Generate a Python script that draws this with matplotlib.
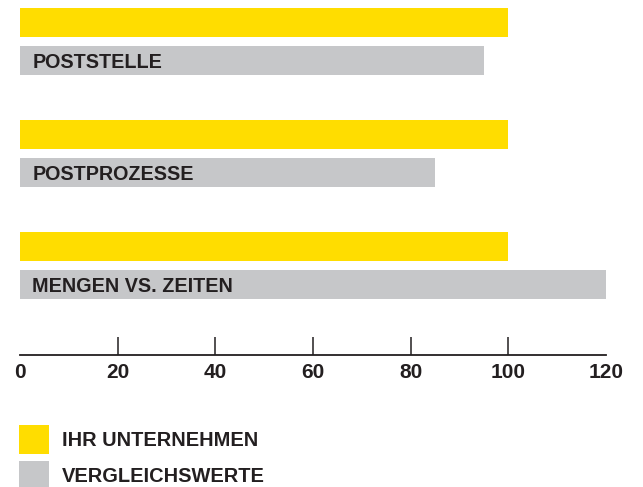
import matplotlib.pyplot as plt
from matplotlib.patches import Rectangle

# daten
kategorien = ['POSTSTELLE', 'POSTPROZESSE', 'MENGEN VS. ZEITEN']
ihr_unternehmen = [100, 100, 100]
vergleichswerte = [95, 85, 120]
x_ticks = [0, 20, 40, 60, 80, 100, 120]
legende = ['IHR UNTERNEHMEN', 'VERGLEICHSWERTE']

GELB = '#FFDD00'
GRAU = '#C6C7C9'
TEXT = '#231F20'

plt.rcParams['font.family'] = ['Liberation Sans', 'DejaVu Sans']
plt.rcParams['font.weight'] = 'bold'

fig = plt.figure(figsize=(6.43, 4.87), dpi=100)
ax = fig.add_axes([20 / 643, 1 - 355 / 487, 586 / 643, 355 / 487])

pos = list(range(len(kategorien)))
ax.barh([p - 0.17 for p in pos], ihr_unternehmen, height=0.26, color=GELB)
ax.barh([p + 0.17 for p in pos], vergleichswerte, height=0.26, color=GRAU)

for p, name in zip(pos, kategorien):
    ax.annotate(name, xy=(0, p + 0.17), xytext=(9, -1.2), textcoords='offset points',
                va='center', ha='left', fontsize=14.2, fontweight='bold', color=TEXT)

ax.set_xlim(0, 120)
ax.set_ylim(2.799, -0.3705)
ax.set_yticks([])
ax.set_xticks(x_ticks)
ax.set_xticklabels([str(t) for t in x_ticks], fontsize=15, fontweight='bold', color=TEXT)
ax.tick_params(axis='x', direction='in', length=13, width=1.1, color=TEXT, pad=5.5)
ticks = ax.xaxis.get_major_ticks()
ticks[0].tick1line.set_visible(False)
ticks[-1].tick1line.set_visible(False)

for s in ['top', 'left', 'right']:
    ax.spines[s].set_visible(False)
ax.spines['bottom'].set_linewidth(1.3)
ax.spines['bottom'].set_color(TEXT)
ax.patch.set_alpha(0)

# legende unten links
for i, (lab, col) in enumerate(zip(legende, [GELB, GRAU])):
    y_top = 425 + i * 36
    fig.add_artist(Rectangle((19 / 643, 1 - (y_top + 29) / 487), 30 / 643, 29 / 487,
                             transform=fig.transFigure, color=col, lw=0))
    fig.text(62 / 643, 1 - (y_top + 16) / 487, lab, fontsize=14.4, fontweight='bold',
             color=TEXT, va='center', ha='left')

fig.savefig('out.png', dpi=100)
